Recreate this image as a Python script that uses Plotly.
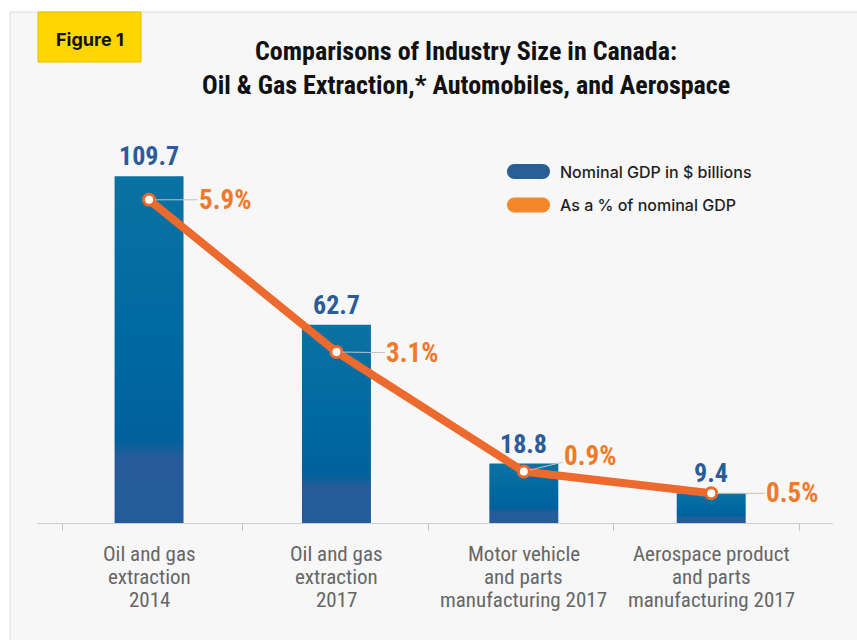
import plotly.graph_objects as go

# ---- data -------------------------------------------------------------
categories = [
    ["Oil and gas", "extraction", "2014"],
    ["Oil and gas", "extraction", "2017"],
    ["Motor vehicle", "and parts", "manufacturing 2017"],
    ["Aerospace product", "and parts", "manufacturing 2017"],
]
gdp_billions = [109.7, 62.7, 18.8, 9.4]
gdp_share_pct = [5.9, 3.1, 0.9, 0.5]
gdp_labels = ["109.7", "62.7", "18.8", "9.4"]
share_labels = ["5.9%", "3.1%", "0.9%", "0.5%"]
title_lines = ["Comparisons of Industry Size in Canada:",
               "Oil & Gas Extraction,* Automobiles, and Aerospace"]

# ---- page geometry ----------------------------------------------------
W, H = 857, 640
ML, MR, MT, MB = 37, 24, 140, 117
PW, PH = W - ML - MR, H - MT - MB


def px(x):
    """Horizontal pixel position -> paper fraction."""
    return (x - ML) / PW


def py(y):
    """Vertical pixel position (from top) -> paper fraction."""
    return (H - MB - y) / PH


COND = "'Roboto Condensed', 'Open Sans Condensed', 'DejaVu Sans Condensed', sans-serif"
SANS = "Inter, 'Noto Sans', sans-serif"

BLUE_TXT = "#2b5c9a"
ORANGE_TXT = "#f07a2b"
ORANGE_LINE = "#ec6a2d"
BAR_SCALE = [
    [0.0, "#245c99"],
    [0.19, "#255c99"],
    [0.24, "#00619c"],
    [0.55, "#0069a0"],
    [1.0, "#0b72a2"],
]
HALF_W = 0.184

fig = go.Figure()

# gradient-filled columns
for i, v in enumerate(gdp_billions):
    fig.add_trace(go.Scatter(
        x=[i - HALF_W, i - HALF_W, i + HALF_W, i + HALF_W, i - HALF_W],
        y=[0, v, v, 0, 0],
        mode="lines",
        fill="toself",
        fillgradient=dict(type="vertical", colorscale=BAR_SCALE, start=0, stop=v),
        line=dict(width=0, color="rgba(0,0,0,0)"),
        name="Nominal GDP in $ billions",
        hoverinfo="skip",
        showlegend=False,
    ))

# share of GDP line
fig.add_trace(go.Scatter(
    x=list(range(len(gdp_share_pct))),
    y=gdp_share_pct,
    xaxis="x2",
    yaxis="y2",
    mode="lines+markers",
    line=dict(color=ORANGE_LINE, width=8),
    marker=dict(size=11, color="white", line=dict(color=ORANGE_LINE, width=3)),
    name="As a % of nominal GDP",
    showlegend=False,
))

annotations = []

# value labels above the columns
for i, (v, t) in enumerate(zip(gdp_billions, gdp_labels)):
    annotations.append(dict(
        x=i, y=v, xref="x", yref="y", text=t, showarrow=False,
        yanchor="bottom", yshift=3,
        font=dict(family=COND, size=26, color=BLUE_TXT, weight=700),
    ))

# percentage labels with leader lines
share_offsets = [(76, 0), (76, 1), (66, -16), (81, 0)]
for i, (p, t) in enumerate(zip(gdp_share_pct, share_labels)):
    ax, ay = share_offsets[i]
    annotations.append(dict(
        x=i, y=p, xref="x2", yref="y2", text=t, showarrow=True,
        arrowhead=0, arrowwidth=1, arrowcolor="#c2c2c2", standoff=6,
        ax=ax, ay=ay,
        font=dict(family=COND, size=27, color=ORANGE_TXT, weight=700),
    ))

# category labels, one annotation per line for tight leading
for i, lines in enumerate(categories):
    for k, line in enumerate(lines):
        annotations.append(dict(
            x=i, xref="x", yref="paper", y=py(554 + 23 * k), text=line,
            showarrow=False, xanchor="center", yanchor="middle",
            font=dict(family=COND, size=21, color="#666666"),
        ))

# title, two lines
for k, line in enumerate(title_lines):
    annotations.append(dict(
        xref="paper", yref="paper", x=px(466), y=py(51.5 + 33 * k), text=line,
        showarrow=False, xanchor="center", yanchor="middle",
        font=dict(family=COND, size=26, color="#111111", weight=700),
    ))

# figure tag
annotations.append(dict(
    xref="paper", yref="paper", x=px(89.5), y=py(39.5),
    text="Figure 1", showarrow=False, xanchor="center", yanchor="middle",
    font=dict(family=SANS, size=18, color="#111111", weight=700),
))

# legend entries
legend_items = [("Nominal GDP in $ billions", "#2a5f95", 171.5),
                ("As a % of nominal GDP", "#f5862a", 205)]
for label, _, yc in legend_items:
    annotations.append(dict(
        xref="paper", yref="paper", x=px(558), y=py(yc), text=label,
        showarrow=False, xanchor="left", yanchor="middle",
        font=dict(family=SANS, size=16, color="#1f1f1f", weight=500),
    ))


def pill_path(w, h):
    r = h / 2
    k = 0.5523 * r
    return (f"M {r},{-r} L {w - r},{-r} "
            f"C {w - r + k},{-r} {w},{-k} {w},0 "
            f"C {w},{k} {w - r + k},{r} {w - r},{r} "
            f"L {r},{r} "
            f"C {r - k},{r} 0,{k} 0,0 "
            f"C 0,{-k} {r - k},{-r} {r},{-r} Z")


shapes = [
    # card background
    dict(type="rect", xref="paper", yref="paper", layer="below",
         x0=px(10), x1=px(W + 40), y0=py(12), y1=py(H + 40),
         fillcolor="#f7f7f7", line=dict(color="#dcdcdc", width=1)),
    # figure tag box
    dict(type="rect", xref="paper", yref="paper", layer="above",
         x0=px(38), x1=px(141), y0=py(12), y1=py(62),
         fillcolor="#ffd600", line=dict(color="#e3c000", width=1)),
]
for _, color, yc in legend_items:
    shapes.append(dict(
        type="path", xref="paper", yref="paper",
        xsizemode="pixel", ysizemode="pixel",
        xanchor=px(507), yanchor=py(yc),
        path=pill_path(43, 15), fillcolor=color, line=dict(width=0),
    ))

x_range = [-0.598, 3.650]

fig.update_layout(
    width=W, height=H,
    margin=dict(l=ML, r=MR, t=MT, b=MB, pad=0),
    paper_bgcolor="white",
    plot_bgcolor="rgba(0,0,0,0)",
    showlegend=False,
    shapes=shapes,
    annotations=annotations,
    xaxis=dict(
        range=x_range, tickmode="array", tickvals=[0, 1, 2, 3],
        ticktext=["<br>".join(c) for c in categories],
        showticklabels=False, ticks="", showgrid=False, zeroline=False,
        showline=True, linecolor="#d0d0d0", linewidth=1,
        fixedrange=True,
    ),
    xaxis2=dict(
        range=x_range, overlaying="x", anchor="y", side="bottom",
        tickmode="array", tickvals=[-0.46, 0.5, 1.49, 2.48, 3.47],
        ticks="outside", ticklen=7, tickwidth=1, tickcolor="#c8c8c8",
        showticklabels=False, showgrid=False, zeroline=False, showline=False,
    ),
    yaxis=dict(range=[0, 121.2], visible=False, fixedrange=True),
    yaxis2=dict(range=[-0.046, 7.0], overlaying="y", visible=False),
)

fig.write_html("out.html")
